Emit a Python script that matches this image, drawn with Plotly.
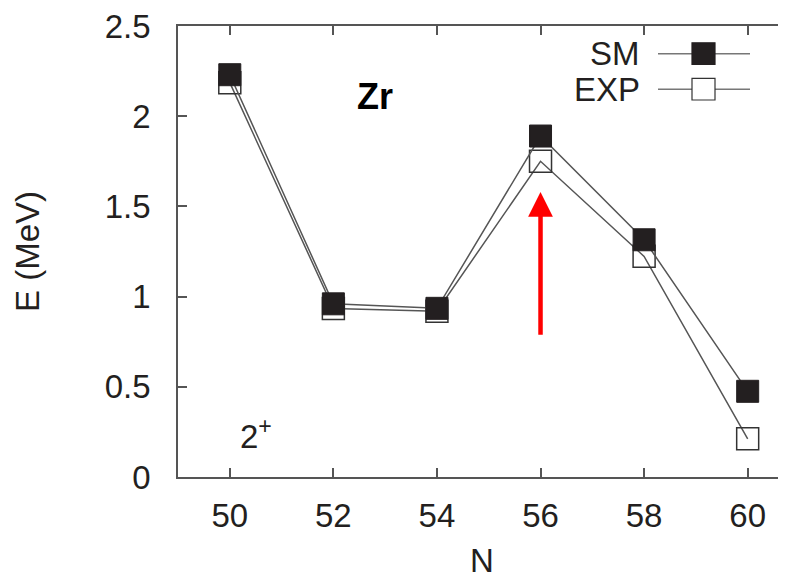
import plotly.graph_objects as go

N = [50, 52, 54, 56, 58, 60]
sm = [2.23, 0.96, 0.935, 1.89, 1.315, 0.475]
exp = [2.186, 0.934, 0.919, 1.750, 1.223, 0.212]
xticks = [50, 52, 54, 56, 58, 60]
yticks = [0, 0.5, 1, 1.5, 2, 2.5]

FONT = "Liberation Sans, Arial, sans-serif"
LINEC = "#555555"
TXT = "#231f20"
FS = 33

fig = go.Figure()
fig.add_trace(go.Scatter(
    x=N, y=exp, mode="lines+markers", name="EXP",
    line=dict(color=LINEC, width=1.5),
    marker=dict(symbol="square-open", size=22, color="#333333", line=dict(width=1.5, color="#333333")),
    showlegend=False))
fig.add_trace(go.Scatter(
    x=N, y=sm, mode="lines+markers", name="SM",
    line=dict(color=LINEC, width=1.5),
    marker=dict(symbol="square", size=22, color=TXT, line=dict(width=1, color=TXT)),
    showlegend=False))

# page-pixel -> paper helpers (plot area: x 178..786, y 20..477 on the page)
def px_x(px):
    return (px - 178) / (786 - 178)

def px_y(py):
    return (477 - py) / (477 - 20)

for label, py, filled in [("SM", 48, True), ("EXP", 84, False)]:
    fig.add_shape(type="line", xref="paper", yref="paper",
                  x0=px_x(658), x1=px_x(750), y0=px_y(py), y1=px_y(py),
                  line=dict(color="#777777", width=1.5))
    fig.add_shape(type="rect", xref="paper", yref="paper",
                  x0=px_x(692), x1=px_x(715), y0=px_y(py - 11), y1=px_y(py + 11),
                  fillcolor=TXT if filled else "white",
                  line=dict(color=TXT if filled else "#333333", width=1.2))
    fig.add_annotation(x=px_x(642), y=px_y(py), xref="paper", yref="paper",
                       text=label, showarrow=False, xanchor="right", yanchor="middle",
                       font=dict(family=FONT, size=FS, color=TXT))

fig.add_annotation(x=52.8, y=2.11, text="<b>Zr</b>", showarrow=False,
                   font=dict(family=FONT, size=36, color="black"))
fig.add_annotation(x=50.5, y=0.24, text="2<sup>+</sup>", showarrow=False,
                   font=dict(family=FONT, size=FS, color=TXT))

# red arrow
fig.add_annotation(x=56, y=1.58, ax=56, ay=0.78, xref="x", yref="y", axref="x", ayref="y",
                   text="", showarrow=True, arrowhead=2, arrowsize=1.1, arrowwidth=4.5,
                   arrowcolor="#ff0000")

axis_common = dict(showline=True, linecolor="#555555", linewidth=1.5,
                   ticks="inside", ticklen=9, tickcolor="#555555", tickwidth=1.5,
                   showgrid=False, zeroline=False, ticklabeloverflow="allow",
                   tickfont=dict(family=FONT, size=FS, color=TXT))

fig.update_layout(
    width=778, height=575,
    margin=dict(l=170, r=0, t=12, b=106),
    plot_bgcolor="white", paper_bgcolor="white",
    xaxis=dict(range=[49, 60.74], tickvals=xticks, ticktext=[str(t) for t in xticks],
               ticklabelstandoff=9, mirror="ticks",
               title=dict(text="N", font=dict(family=FONT, size=FS, color=TXT), standoff=16),
               **axis_common),
    yaxis=dict(range=[0, 2.5], tickvals=yticks, ticktext=["0", "0.5", "1", "1.5", "2", "2.5"],
               ticklabelstandoff=19, mirror=False,
               title=dict(text="E (MeV)", font=dict(family=FONT, size=FS, color=TXT), standoff=55),
               **axis_common),
)

fig.write_html("out.html")
